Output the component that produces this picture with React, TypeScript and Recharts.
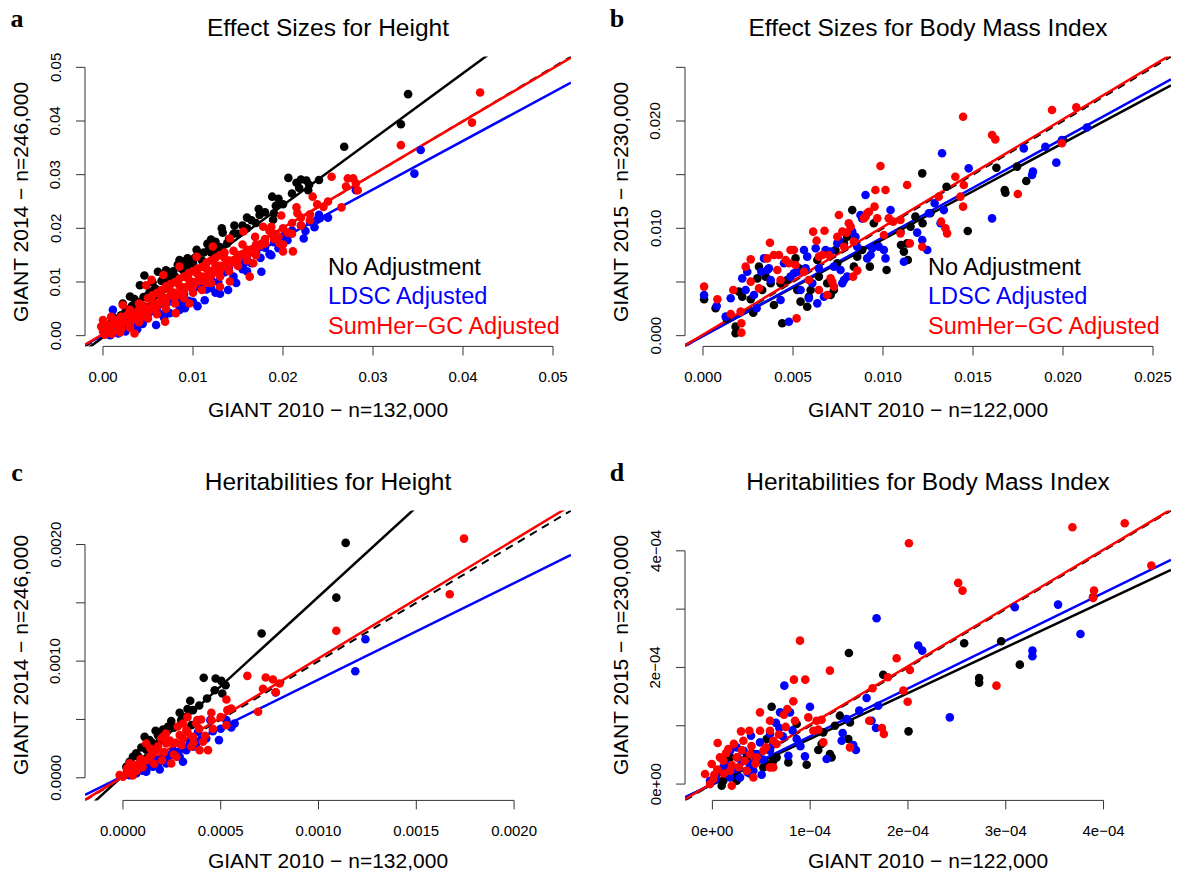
import React from 'react';
import { ScatterChart, Scatter, XAxis, YAxis, ReferenceLine } from 'recharts';

// values are stored in panel units (a,b: 1e-3, c: 1e-4, d: 1e-5)
const aBlack = [[33.9,45.0],[33.1,39.4],[26.8,35.2],[20.6,29.4],[22.0,29.1],[22.6,28.9],[22.9,28.1],[21.8,27.5],[22.8,27.1],[18.8,25.9],[19.2,24.2],[17.3,23.6],[17.4,22.5],[18.9,21.6],[16.0,22.0],[14.6,20.5],[13.2,20.0],[13.3,19.2],[12.0,17.9],[11.6,17.1],[10.4,16.0],[9.4,14.4],[8.5,14.1],[8.3,13.2],[7.0,12.2],[6.1,11.9],[4.6,11.2],[4.1,9.4],[3.0,7.3],[2.2,6.0],[1.1,3.5],[5,7.5],[6,8.5],[7,9],[8,11],[9,12],[10,13.5],[11,14],[12,15.5],[13,16.5],[14,18],[15,19],[16,20],[3,5],[4,6.2],[2,3.8],[1.5,2.5],[0.8,1.5],[1,2.8],[3.5,6.8],[5.5,9.9],[7.5,11.3],[9,13.8],[10.5,15],[12.5,17.5],[15.5,20.5],[17,21],[19.5,25.5],[0.5,1.1],[1.2,2],[1.8,3.2],[2.5,4.5],[3.2,5.5],[3.8,6],[4.5,7.2],[5.2,8.2],[5.8,8.8],[6.5,10.2],[7.2,10.5],[7.8,12],[8.7,12.5],[9.5,13.2],[10.2,14.5],[11.2,15.5],[11.8,16.4],[12.8,16],[13.8,17.2],[14.5,19],[16.5,21.5],[18,23],[19,22.8],[20,24.5],[21,26.5],[24,29],[21.5,28.5]];
const aBlue = [[35.3,34.6],[34.6,30.2],[28.1,27.1],[23.8,21.6],[23.0,21.2],[24.1,21.9],[22.3,18.1],[18.7,15.0],[17.6,11.9],[15.7,13.5],[14.8,9.8],[13.9,8.5],[12.5,8.0],[11.3,6.6],[10.0,6.3],[9.1,5.1],[7.4,4.2],[5.9,2.0],[4.4,2.2],[3.3,1.7],[1.7,0.4],[1.1,4.8],[2,1.6],[3,2.5],[4,3.3],[5,4.1],[6,5.2],[7,6],[8,6.8],[9,7.7],[10,8.6],[11,9.5],[12,10.6],[13,11.3],[14,12.8],[15,13.2],[16,14.4],[17,15.5],[18,16.4],[19,17.4],[20,18.5],[21,19.6],[22,20.5],[24,22.5],[1,0.8],[0.5,0.3],[6.5,4.0],[9.5,6.5],[12,8.9],[14.5,11],[2.5,0.8],[4.5,2.8],[1.5,1.1],[2.2,1.9],[3.5,2.6],[4.2,3.9],[5.5,4.6],[6.2,5.8],[7.5,6.4],[8.2,7.4],[8.8,6.2],[10.5,9.1],[11.5,8.6],[12.8,10],[13.5,11.8],[15.5,12.4],[16.5,13.5],[17.5,14.5],[18.5,15.2],[19.5,16.3],[20.5,17.8],[22.5,19.5],[23.5,20.2],[25,22],[3.8,1.2],[6.8,3.3],[8.5,4.8],[10.5,5.5],[13,7.8],[16,12],[0.3,0.9],[0.8,0.1]];
const aRed = [[41.9,45.3],[41.0,39.7],[33.1,35.5],[25.4,29.6],[27.2,29.3],[27.8,29.3],[28.1,28.4],[27.0,27.8],[28.3,27.1],[26.5,23.9],[23.3,25.9],[23.8,24.5],[21.5,23.9],[21.6,22.8],[19.8,22.4],[23.0,22.6],[21.1,15.7],[20.0,15.7],[19.6,17.2],[17.8,20.3],[18.7,20.3],[16.7,13.5],[16.3,11.0],[14.1,10.1],[13.0,9.1],[11.5,9.8],[9.6,6.0],[8.1,4.2],[6.9,2.6],[3.5,0.4],[1.9,0.6],[0,2.9],[-0.2,1.7],[0.9,3.5],[2.2,5.7],[5.4,10.4],[4.8,9.4],[6.7,11.3],[8.5,12.9],[10.4,14.7],[12.2,16.6],[14.1,18.1],[15.6,19.4],[16.9,18.4],[1,1],[2,2],[3,3],[4,4],[5,5],[6,6],[7,7],[8,8],[9,9],[10,10],[11,11],[12,12],[13,13],[14,14],[15,15],[16,16],[17,17],[18,18],[19,19],[20,20],[22,22],[2,3.5],[3,4.8],[4,6],[5,7],[6,8],[7,9.2],[8,10],[9,11],[10,12],[11,12.8],[12,14],[13,15],[3,1.5],[4,2.5],[5,3.2],[6,4],[7,5],[8,6],[9,7],[10,8],[11,8.5],[12,9.8],[13,11],[14,12],[15,13],[16,14],[17,15],[1.5,1],[0.5,2],[2.5,2.8],[3.5,4.2],[5.5,6.2],[6.5,7.2],[7.5,8.3],[8.5,9.3],[9.5,10.5],[10.5,11.5],[11.5,12.5],[12.5,13],[13.5,14.5],[14.5,15.8],[15.5,17],[17.5,17],[18.5,19.5],[20,17],[21,19],[0,0.8],[0.3,1.5],[1,0.3],[0.5,0.6],[1,1.8],[1.5,2.2],[2,1.2],[2.5,3.6],[3,2.2],[3.5,3.2],[4,4.8],[4.5,3.6],[4.5,5.6],[5,4.3],[5.5,5],[5.5,7.5],[6,5.5],[6.5,6.3],[6.5,8.5],[7,6.2],[7.5,7.5],[7.5,9.6],[8,7.2],[8.5,8],[8.5,10.6],[9,8.3],[9.5,9.2],[9.5,11.6],[10,9.2],[10.5,10],[10.5,12.5],[11,10.2],[11.5,11],[11.5,13.6],[12,11.2],[12.5,12],[12.5,14.5],[13,12.2],[13.5,13],[13.5,15.5],[14,13.2],[14.5,14],[15,14.2],[15.5,15.2],[16,15],[16.5,16],[17,16.2],[17.5,16.8],[18,17.2],[19,18],[19.5,18.5],[20.5,19.2],[21,21],[22,20.5],[23,21.5],[24.5,24],[25,25],[1.2,3],[2.8,4],[0.2,0.2],[0.7,1.2],[1.8,1.4],[2.2,2.6]];

const bBlack = [[0.06,3.39],[0.70,2.55],[1.31,1.61],[1.81,0.84],[1.81,0.22],[2.0,4.1],[2.18,3.63],[2.65,3.39],[2.79,2.14],[3.11,6.43],[3.02,5.34],[3.48,5.50],[3.29,4.25],[3.76,4.88],[3.94,2.86],[4.40,1.15],[4.31,4.88],[4.68,5.19],[5.14,7.20],[5.24,4.25],[5.33,6.27],[5.42,3.17],[5.79,2.70],[5.88,3.63],[5.98,4.25],[6.35,7.05],[6.44,5.50],[6.90,4.88],[7.09,3.79],[7.27,4.25],[7.36,7.98],[7.46,6.74],[7.83,8.60],[8.01,9.22],[8.29,11.7],[8.38,6.43],[8.57,7.36],[8.84,7.98],[9.27,6.43],[9.49,10.47],[9.68,8.45],[10.2,6.12],[10.97,9.69],[11.0,8.45],[11.16,7.83],[11.38,7.05],[11.34,8.60],[11.53,10.16],[11.8,11.09],[12.18,15.12],[12.2,10.47],[12.63,11.4],[13.53,13.88],[14.71,9.75],[16.3,15.65],[16.76,13.57],[16.8,13.32],[17.45,15.75],[17.96,14.41],[20.0,18.2]];
const bBlue = [[0.06,3.79],[0.76,2.76],[1.26,1.77],[1.54,3.48],[2.18,5.34],[2.37,4.25],[2.46,5.96],[2.83,3.79],[2.98,2.55],[3.24,5.96],[3.39,7.2],[3.57,6.12],[3.66,6.27],[3.76,5.19],[4.31,3.32],[4.5,6.74],[4.77,1.30],[4.86,5.5],[5.05,5.81],[5.24,5.96],[5.42,4.25],[5.61,7.98],[5.70,6.27],[5.79,7.36],[5.88,3.48],[6.07,4.88],[6.26,8.14],[6.35,3.01],[6.44,6.27],[6.72,3.63],[6.81,7.98],[7.09,7.83],[7.27,6.43],[7.46,8.60],[7.55,8.91],[7.64,6.12],[7.74,4.88],[7.83,5.19],[8.01,5.50],[8.29,9.69],[8.47,9.22],[8.57,8.29],[8.75,11.24],[8.84,10.93],[9.03,13.11],[9.12,7.2],[9.31,7.52],[9.40,8.14],[9.77,8.29],[10.05,7.98],[10.14,7.2],[10.42,11.7],[11.16,6.89],[11.9,9.6],[12.18,8.91],[12.46,7.98],[12.55,11.4],[12.87,12.33],[13.2,10.47],[13.28,17.0],[13.38,11.7],[14.76,15.59],[16.06,10.93],[17.82,17.45],[18.28,14.97],[18.33,15.28],[19.02,17.6],[19.63,16.12],[19.94,18.23],[21.33,19.4]];
const bRed = [[0.06,4.57],[0.80,3.39],[1.54,2.02],[1.68,4.25],[2.09,2.24],[2.13,1.15],[2.13,0.28],[2.37,6.43],[2.65,7.11],[2.65,5.03],[3.11,4.41],[3.57,7.2],[3.72,8.66],[3.94,7.52],[4.13,6.12],[4.22,7.52],[4.31,5.19],[4.59,7.05],[4.77,6.74],[4.86,7.98],[5.05,7.98],[5.14,6.58],[5.2,1.61],[5.61,5.96],[5.88,5.19],[6.12,9.69],[6.31,8.85],[6.44,7.36],[6.44,4.25],[6.63,7.52],[6.75,9.78],[6.90,3.79],[6.99,7.52],[7.09,5.34],[7.18,5.03],[7.27,4.57],[7.46,9.22],[7.55,11.24],[7.74,9.69],[7.83,8.29],[7.98,9.6],[8.1,10.47],[8.2,10.16],[8.34,5.5],[8.38,8.76],[8.57,6.06],[8.94,10.93],[9.03,11.09],[9.12,11.4],[9.22,11.55],[9.53,12.02],[9.58,13.57],[9.68,10.93],[9.86,15.81],[10.05,9.38],[10.14,13.57],[10.32,10.93],[10.57,10.62],[10.97,10.78],[10.97,9.53],[11.34,14.04],[11.49,8.60],[12.18,8.29],[13.10,12.95],[13.23,10.62],[13.47,10.0],[13.56,9.53],[14.02,14.81],[14.3,12.95],[14.45,20.4],[14.49,14.04],[14.45,12.02],[16.06,18.7],[16.24,18.29],[17.49,13.2],[19.39,21.02],[19.94,17.92],[20.74,21.27]];

const cBlack = [[11.39,20.14],[10.91,15.45],[7.09,12.37],[4.13,8.57],[4.74,8.51],[5.03,8.31],[5.25,7.94],[4.69,7.51],[5.08,7.23],[3.44,6.60],[3.58,5.80],[2.90,5.57],[2.47,4.86],[2.98,4.94],[3.50,4.51],[2.05,4.14],[1.67,4.03],[1.36,3.23],[0.94,2.6],[0.51,1.8],[0.17,0.94],[1.11,3.51],[1.79,3.66],[2.30,4.37],[0.68,2.09],[0.34,1.37],[0.4,1.0],[0.8,1.8],[1.2,2.4],[1.5,3.0],[1.9,3.2],[2.2,3.9],[2.6,4.3],[3.1,5.2],[3.3,5.9],[3.9,6.2],[4.3,6.8],[0.6,0.6],[1.0,1.2]];
const cBlue = [[12.4,11.88],[11.88,9.14],[7.81,7.31],[5.54,4.31],[5.71,4.66],[5.29,4.94],[4.91,3.23],[4.47,4.94],[3.07,1.37],[3.58,2.66],[2.39,1.94],[1.88,0.71],[1.19,0.51],[0.34,0.23],[0.68,0.37],[2.90,1.80],[3.75,2.94],[4.26,3.37],[2.22,1.23],[1.53,0.94],[3.24,2.37],[3.84,3.94],[2.73,2.09],[3.41,2.94],[1.71,1.51],[0.94,0.80],[0.5,0.4],[1.0,0.6],[1.4,1.0],[1.8,1.2],[2.2,1.6],[2.6,2.3],[3.0,2.5],[3.5,3.1],[4.0,3.3],[4.6,4.0],[5.0,4.2]];
const cRed = [[17.44,20.51],[16.71,15.74],[10.91,12.6],[6.36,8.74],[7.30,8.60],[7.67,8.43],[8.01,8.08],[7.16,7.63],[7.81,7.34],[5.29,6.71],[6.91,5.66],[4.52,5.57],[4.52,4.94],[5.34,5.80],[5.54,5.94],[3.80,4.94],[4.35,2.37],[3.92,2.37],[4.09,3.09],[3.5,2.66],[3.24,4.08],[2.90,3.66],[2.56,2.94],[2.22,2.94],[2.73,1.80],[2.47,1.23],[2.05,3.51],[1.71,2.37],[1.36,1.80],[1.19,2.94],[0.85,1.23],[0.51,0.80],[0.17,0.37],[0,0.09],[-0.17,0.23],[0.34,1.23],[1.96,3.37],[3.07,3.37],[3.58,3.51],[3.07,4.66],[3.75,4.66],[5.29,4.51],[0.3,0.5],[0.6,1.1],[0.9,1.6],[1.2,1.5],[1.5,2.0],[1.8,2.7],[2.1,2.2],[2.4,3.2],[2.7,3.0],[3.0,2.8],[3.3,3.9],[3.6,3.0],[3.9,4.2],[4.2,3.6],[4.6,4.2],[5.0,5.2],[1.0,0.9],[1.6,1.2],[2.0,1.5],[2.6,2.0],[0.7,0.6],[1.4,2.5],[2.2,3.8],[2.8,4.4],[3.3,5.2],[4.0,5.0],[0.2,0.8],[0.5,0.2]];

const dBlack = [[6.06,13.27],[13.96,22.48],[17.47,18.76],[13.04,11.73],[14.07,10.58],[13.9,7.72],[12.02,5.15],[12.19,4.58],[10.83,5.84],[11.17,6.86],[11.34,8.87],[9.64,3.32],[7.77,3.72],[6.57,4.58],[6.23,4.0],[20.06,9.04],[25.75,24.14],[27.28,18.19],[27.28,17.39],[29.53,24.49],[31.44,20.48],[38.93,32.04],[0.95,-0.29],[1.12,0.57],[2.49,0.57],[2.49,1.43],[3.85,1.83],[5.21,2.86],[4.19,5.15],[5.55,7.72],[3.51,4.58],[1.81,4.58],[8.62,10.3],[5.55,3.43],[12.53,10.01]];
const dBlue = [[16.79,28.43],[7.36,16.88],[6.92,12.3],[7.94,12.3],[9.98,13.27],[6.85,9.61],[5.89,8.58],[3.95,8.30],[4.87,7.15],[8.62,7.72],[9.47,4.75],[11.68,4.29],[13.22,7.44],[13.32,8.75],[14.41,6.69],[14.68,5.84],[13.73,11.16],[15.02,12.59],[15.77,14.76],[16.28,10.87],[16.73,9.61],[16.96,13.44],[21.05,23.74],[21.46,22.88],[24.28,11.44],[30.93,30.32],[32.73,22.88],[32.73,21.91],[35.35,30.78],[37.64,25.74],[-0.24,0.57],[0.44,1.72],[1.12,2.86],[1.81,5.72],[2.49,6.29],[2.99,4.0],[3.85,3.43],[5.04,1.60],[4.19,2.29],[2.83,1.14],[5.89,5.72],[7.77,4.86],[1.81,1.14],[4.53,5.15],[0.3,1.0],[0.9,2.1],[1.5,3.3],[2.2,2.5],[2.6,4.5],[3.2,5.7],[3.6,2.0],[4.5,3.9],[5.2,4.2],[6.2,6.8],[6.5,10.5],[7.2,8.2],[8.2,9.2],[9.0,6.5]];
const dRed = [[20.1,41.3],[36.82,44.05],[42.17,44.74],[44.89,37.47],[25.14,34.5],[25.58,33.18],[39.03,33.18],[38.93,31.92],[8.96,24.6],[12.02,19.45],[8.34,17.91],[9.50,17.91],[8.28,14.19],[7.66,12.87],[4.87,12.3],[5.89,10.87],[7.32,11.9],[8.45,10.87],[9.81,11.44],[10.66,10.87],[11.17,11.04],[10.32,9.15],[10.83,9.33],[11.34,7.15],[14.07,6.29],[16.04,10.87],[16.38,16.42],[17.95,18.31],[18.84,21.57],[20.2,19.57],[19.53,16.02],[19.97,14.13],[17.34,9.61],[17.54,8.58],[29.05,16.88],[2.93,9.04],[3.78,9.15],[3.17,7.44],[0.54,7.04],[1.63,6.0],[0.78,4.58],[-0.07,3.43],[-0.75,1.72],[-0.24,0],[1.12,4.0],[2.49,4.58],[3.85,5.15],[1.81,2.29],[3.51,2.29],[4.19,1.14],[5.89,2.86],[6.23,7.44],[6.57,6.86],[5.21,5.72],[5.89,9.15],[4.87,9.15],[6.23,2.86],[4.53,4.58],[1.98,-0.29],[0.1,0.86],[0.5,2.5],[1.2,1.8],[2.0,3.2],[2.7,2.9],[3.3,4.0],[4.0,6.5],[4.4,3.5],[5.5,6.3],[6.8,8.5],[7.5,9.8],[2.2,6.9],[1.4,5.3],[3.0,5.8],[0.2,1.6]];

// fitted lines: [intercept, slope] for black, blue, red
const aFits = [[-0.0003, 1.23], [0.0001, 0.905], [0.0003, 0.991]];
const bFits = [[0, 0.897], [-0.00003, 0.92], [0.0001, 1.003]];
const cFits = [[0.000018, 1.535], [0.000014, 0.828], [0.000008, 1.016]];
const dFits = [[-0.000001, 0.785], [0, 0.82], [0.000002, 1.0]];

const aTicks = [0, 0.01, 0.02, 0.03, 0.04, 0.05];
const aTickLabels = ['0.00', '0.01', '0.02', '0.03', '0.04', '0.05'];
const bTicks = [0, 0.005, 0.01, 0.015, 0.02, 0.025];
const bXLabels = ['0.000', '0.005', '0.010', '0.015', '0.020', '0.025'];
const bYLabels = ['0.000', '', '0.010', '', '0.020', ''];
const cTicks = [0, 0.0005, 0.001, 0.0015, 0.002];
const cXLabels = ['0.0000', '0.0005', '0.0010', '0.0015', '0.0020'];
const cYLabels = ['0.0000', '', '0.0010', '', '0.0020'];
const dTicks = [0, 0.0001, 0.0002, 0.0003, 0.0004];
const dXLabels = ['0e+00', '1e\u221204', '2e\u221204', '3e\u221204', '4e\u221204'];
const dYLabels = ['0e+00', '', '2e\u221204', '', '4e\u221204'];

const COLORS = ['#000000', '#0000FF', '#FF0000'];
const FONT = '"Liberation Sans", Arial, Helvetica, sans-serif';

const W = 590;
const H = 424.4;
const M = { top: 56.6, left: 15, right: 19, bottom: 18 };
const YW = 70;
const XH = 60;
const AX_Y = M.top + (H - M.top - M.bottom - XH); // plot bottom in chart coords
const AX_X = M.left + YW;

const panels = [
  { letter: 'a', title: 'Effect Sizes for Height', xTitle: 'GIANT 2010 \u2212 n=132,000', yTitle: 'GIANT 2014 \u2212 n=246,000', left: 0, top: 0, domain: [-0.002, 0.052], unit: 1e-3, series: [aBlack, aBlue, aRed], fits: aFits, xTicks: aTicks, xLabels: aTickLabels, yTicks: aTicks, yLabels: aTickLabels, legend: true, xtOff: 63 },
  { letter: 'b', title: 'Effect Sizes for Body Mass Index', xTitle: 'GIANT 2010 \u2212 n=122,000', yTitle: 'GIANT 2015 \u2212 n=230,000', left: 600, top: 0, domain: [-0.001, 0.026], unit: 1e-3, series: [bBlack, bBlue, bRed], fits: bFits, xTicks: bTicks, xLabels: bXLabels, yTicks: bTicks, yLabels: bYLabels, legend: true, xtOff: 63 },
  { letter: 'c', title: 'Heritabilities for Height', xTitle: 'GIANT 2010 \u2212 n=132,000', yTitle: 'GIANT 2014 \u2212 n=246,000', left: 0, top: 453.6, domain: [-0.000194, 0.002291], unit: 1e-4, series: [cBlack, cBlue, cRed], fits: cFits, xTicks: cTicks, xLabels: cXLabels, yTicks: cTicks, yLabels: cYLabels, legend: false, xtOff: 60 },
  { letter: 'd', title: 'Heritabilities for Body Mass Index', xTitle: 'GIANT 2010 \u2212 n=122,000', yTitle: 'GIANT 2015 \u2212 n=230,000', left: 600, top: 453.6, domain: [-0.000028, 0.000469], unit: 1e-5, series: [dBlack, dBlue, dRed], fits: dFits, xTicks: dTicks, xLabels: dXLabels, yTicks: dTicks, yLabels: dYLabels, legend: false, xtOff: 60 },
];

const legendItems = ['No Adjustment', 'LDSC Adjusted', 'SumHer\u2212GC Adjusted'];

function makeXTick(labels: string[]) {
  return (props: any) => {
    const { x, index } = props;
    return (
      <g>
        <line x1={x} x2={x} y1={AX_Y} y2={AX_Y + 9} stroke="#333" strokeWidth={1} />
        <text x={x} y={AX_Y + 30} textAnchor="middle" dominantBaseline="central" fontSize={15} fontFamily={FONT} fill="#000">{labels[index]}</text>
      </g>
    );
  };
}

function makeYTick(labels: string[]) {
  return (props: any) => {
    const { y, index } = props;
    return (
      <g>
        <line x1={AX_X} x2={AX_X - 9} y1={y} y2={y} stroke="#333" strokeWidth={1} />
        <text x={AX_X - 30} y={y} textAnchor="middle" dominantBaseline="central" fontSize={15} fontFamily={FONT} fill="#000" transform={`rotate(-90 ${AX_X - 30} ${y})`}>{labels[index]}</text>
      </g>
    );
  };
}

function Txt({ x, y, size, children, color = '#000', anchor = 'middle', rotate = false, bold = false, serif = false }: any) {
  const tx = anchor === 'middle' ? '-50%' : '0';
  return (
    <div style={{ position: 'absolute', left: x, top: y, transform: `translate(${tx},-50%)${rotate ? ' rotate(-90deg)' : ''}`, transformOrigin: anchor === 'middle' ? 'center' : 'left center', fontSize: size, color, whiteSpace: 'nowrap', lineHeight: 1, fontFamily: serif ? '"Liberation Serif", "Times New Roman", serif' : FONT, fontWeight: bold ? 700 : 400 }}>
      {children}
    </div>
  );
}

function Panel({ p }: any) {
  const [lo, hi] = p.domain;
  const plotW = W - M.left - M.right - YW;
  const plotH = H - M.top - M.bottom - XH;
  const pageLeft = p.left + AX_X;
  const pageTop = p.top + M.top;
  const cx = pageLeft + plotW / 2;
  const cy = pageTop + plotH / 2;
  return (
    <>
      <div style={{ position: 'absolute', left: p.left, top: p.top }}>
        <ScatterChart width={W} height={H} margin={M}>
          <XAxis type="number" dataKey="x" domain={[lo, hi]} allowDataOverflow ticks={p.xTicks} interval={0} axisLine={false} tickLine={false} height={XH} tick={makeXTick(p.xLabels)} />
          <YAxis type="number" dataKey="y" domain={[lo, hi]} allowDataOverflow ticks={p.yTicks} interval={0} axisLine={false} tickLine={false} width={YW} tick={makeYTick(p.yLabels)} />
          {p.series.map((s: number[][], i: number) => (
            <Scatter
              key={i}
              data={s.map(([x, y]) => ({ x: x * p.unit, y: y * p.unit }))}
              isAnimationActive={false}
              shape={(sp: any) => <circle cx={sp.cx} cy={sp.cy} r={4.3} fill={COLORS[i]} />}
            />
          ))}
          <ReferenceLine segment={[{ x: p.xTicks[0], y: lo }, { x: p.xTicks[p.xTicks.length - 1], y: lo }]} stroke="#333" strokeWidth={1} ifOverflow="visible" />
          <ReferenceLine segment={[{ x: lo, y: p.yTicks[0] }, { x: lo, y: p.yTicks[p.yTicks.length - 1] }]} stroke="#333" strokeWidth={1} ifOverflow="visible" />
          <ReferenceLine segment={[{ x: lo, y: lo }, { x: hi, y: hi }]} stroke="#000" strokeWidth={2} strokeDasharray="8 6" ifOverflow="hidden" />
          {p.fits.map(([a, b]: number[], i: number) => (
            <ReferenceLine key={i} segment={[{ x: lo, y: a + b * lo }, { x: hi, y: a + b * hi }]} stroke={COLORS[i]} strokeWidth={2.5} ifOverflow="hidden" />
          ))}
        </ScatterChart>
      </div>
      <Txt x={p.left + 17} y={p.top + 19} size={26} bold serif>{p.letter}</Txt>
      <Txt x={cx} y={p.top + 28} size={24.5}>{p.title}</Txt>
      <Txt x={cx} y={pageTop + plotH + p.xtOff} size={21}>{p.xTitle}</Txt>
      <Txt x={p.left + 20} y={cy} size={21} rotate>{p.yTitle}</Txt>
      {p.legend && legendItems.map((t, i) => (
        <Txt key={t} x={p.left + 328} y={p.top + 268 + i * 29.3} size={23.5} color={COLORS[i]} anchor="start">{t}</Txt>
      ))}
    </>
  );
}

export default function App() {
  return (
    <div style={{ position: 'absolute', left: 0, top: 0, width: 1177, height: 878, background: '#fff', overflow: 'hidden' }}>
      {panels.map((p) => <Panel key={p.letter} p={p} />)}
    </div>
  );
}
